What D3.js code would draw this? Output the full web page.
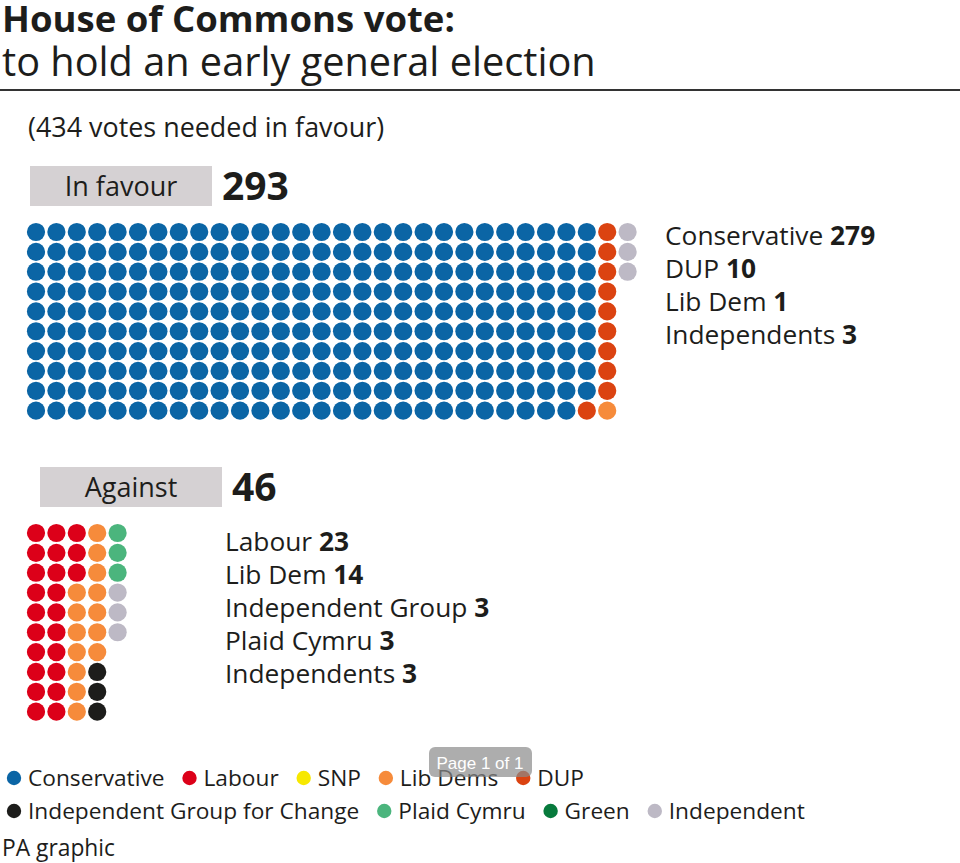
<!DOCTYPE html>
<html>
<head>
<meta charset="utf-8">
<script src="https://cdn.jsdelivr.net/npm/d3@7"></script>
<style>
  body { margin: 0; background: #fff; }
  svg { display: block; font-family: "Open Sans", sans-serif; }
</style>
</head>
<body>
<svg id="chart" width="960" height="863"></svg>
<script>
// votes in favour, in fill order
const favourParties = ['Conservative', 'DUP', 'Lib Dem', 'Independents'];
const favourSeats = [279, 10, 1, 3];
const favourKeys = ['Conservative', 'DUP', 'Lib Dems', 'Independent'];

// votes against, in fill order
const againstParties = ['Labour', 'Lib Dem', 'Independent Group', 'Plaid Cymru', 'Independents'];
const againstSeats = [23, 14, 3, 3, 3];
const againstKeys = ['Labour', 'Lib Dems', 'Independent Group for Change', 'Plaid Cymru', 'Independent'];

const votesNeeded = 434;

// legend
const legendRow1 = ['Conservative', 'Labour', 'SNP', 'Lib Dems', 'DUP'];
const legendRow2 = ['Independent Group for Change', 'Plaid Cymru', 'Green', 'Independent'];
const partyNames = legendRow1.concat(legendRow2);
const partyColours = ['#0b65a5', '#dc0019', '#f7e800', '#f68b3b', '#db4311',
                      '#1d1d1b', '#4bb57d', '#077a3c', '#bdb9c5'];

const colour = d3.scaleOrdinal().domain(partyNames).range(partyColours);
const svg = d3.select('#chart');
const ink = '#1d1d1b';

// heading
svg.append('text').attr('x', 2).attr('y', 32)
  .style('font-size', '36.5px').style('font-weight', 700).style('fill', ink)
  .text('House of Commons vote:');
svg.append('text').attr('x', 2).attr('y', 76)
  .style('font-size', '39.7px').style('fill', ink)
  .text('to hold an early general election');
svg.append('line').attr('x1', 0).attr('x2', 960).attr('y1', 90).attr('y2', 90)
  .style('stroke', '#333').style('stroke-width', 2);

svg.append('text').attr('x', 28).attr('y', 137)
  .style('font-size', '26.9px').style('fill', ink)
  .text(`(${votesNeeded} votes needed in favour)`);

function expand(seats, keys) {
  const dots = [];
  seats.forEach((n, i) => {
    for (let k = 0; k < n; k++) dots.push(keys[i]);
  });
  return dots.map((key, i) => ({key, col: Math.floor(i / 10), row: i % 10}));
}

function block(opts) {
  const g = svg.append('g');
  g.append('rect')
    .attr('x', opts.boxX).attr('y', opts.boxY)
    .attr('width', 182).attr('height', 40)
    .style('fill', '#d5d1d3');
  g.append('text')
    .attr('x', opts.boxX + 91).attr('y', opts.boxY + 30)
    .attr('text-anchor', 'middle')
    .style('font-size', '27px').style('fill', ink)
    .text(opts.title);
  g.append('text')
    .attr('x', opts.boxX + 192).attr('y', opts.boxY + 34)
    .style('font-size', '39px').style('font-weight', 700).style('fill', ink)
    .text(d3.sum(opts.seats));

  const dots = expand(opts.seats, opts.keys);
  const cols = d3.max(dots, d => d.col);
  const x = d3.scaleLinear().domain([0, cols]).range([opts.x0, opts.x0 + cols * 20.4]);
  const y = d3.scaleLinear().domain([0, 9]).range([opts.y0, opts.y0 + 9 * 19.85]);

  g.append('g').selectAll('circle')
    .data(dots)
    .enter()
    .append('circle')
    .attr('cx', d => x(d.col))
    .attr('cy', d => y(d.row))
    .attr('r', 9.1)
    .style('fill', d => colour(d.key));

  const line = d3.scaleLinear().domain([0, 1]).range([opts.labelY, opts.labelY + 33]);
  const labels = g.append('g').selectAll('text')
    .data(opts.parties)
    .enter()
    .append('text')
    .attr('x', opts.labelX)
    .attr('y', (d, i) => line(i))
    .style('font-size', '26.3px').style('fill', ink);
  labels.append('tspan').text(d => d + ' ');
  labels.append('tspan').style('font-weight', 700).text((d, i) => opts.seats[i]);
}

block({title: 'In favour', parties: favourParties, seats: favourSeats, keys: favourKeys,
  boxX: 30, boxY: 166, x0: 36, y0: 232, labelX: 665, labelY: 245});
block({title: 'Against', parties: againstParties, seats: againstSeats, keys: againstKeys,
  boxX: 40, boxY: 467, x0: 36, y0: 533, labelX: 225, labelY: 551});

// legend
function legendRow(names, y) {
  const g = svg.append('g');
  let cx = 14;
  names.forEach(name => {
    g.append('circle').attr('cx', cx).attr('cy', y - 8).attr('r', 7.2)
      .style('fill', colour(name));
    const t = g.append('text').attr('x', cx + 14).attr('y', y)
      .style('font-size', '22.7px').style('fill', ink).text(name);
    cx += 14 + t.node().getComputedTextLength() + 25;
  });
}
legendRow(legendRow1, 786);
legendRow(legendRow2, 819);

svg.append('text').attr('x', 2).attr('y', 856)
  .style('font-size', '22.8px').style('fill', ink).text('PA graphic');

// viewer page badge
svg.append('rect').attr('x', 429).attr('y', 747).attr('width', 103).attr('height', 30)
  .attr('rx', 6).style('fill', '#8a8a8a').style('opacity', 0.7);
svg.append('text').attr('x', 480).attr('y', 769).attr('text-anchor', 'middle')
  .style('font-family', 'Liberation Sans, Arial, sans-serif')
  .style('font-size', '17px').style('fill', '#fff').text('Page 1 of 1');
</script>
</body>
</html>
